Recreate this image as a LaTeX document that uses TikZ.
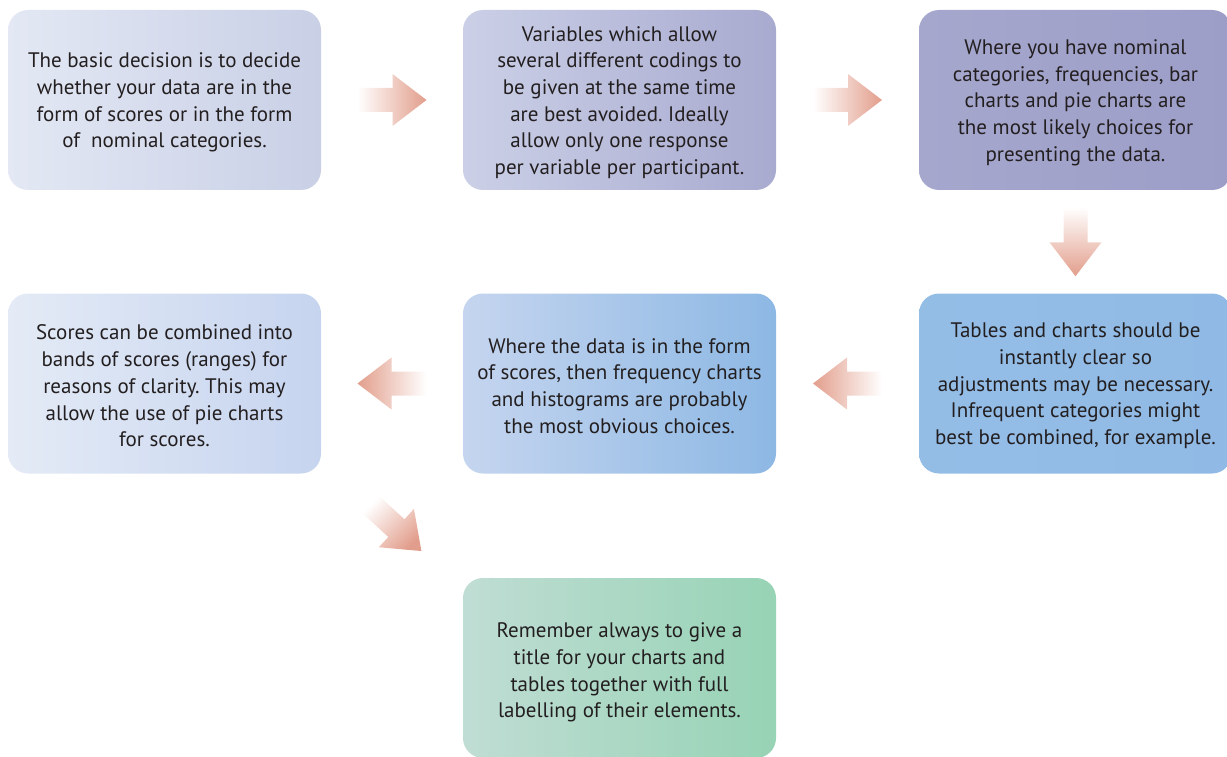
\documentclass[tikz,border=0pt]{standalone}
\usepackage{fontspec}
\setmainfont{PT Sans}
\usetikzlibrary{calc}
\definecolor{txt}{HTML}{231F20}
\definecolor{sal}{HTML}{E29E8C}
\definecolor{bAl}{HTML}{E3E8F4}\definecolor{bAr}{HTML}{C9D0E6}
\definecolor{bBl}{HTML}{CBD0E7}\definecolor{bBr}{HTML}{A8AACF}
\definecolor{bCl}{HTML}{A5A7CD}\definecolor{bCr}{HTML}{9C9EC8}
\definecolor{bDl}{HTML}{E4EBF6}\definecolor{bDr}{HTML}{C6D4EF}
\definecolor{bEl}{HTML}{C5D5EF}\definecolor{bEr}{HTML}{8DB8E4}
\definecolor{bFl}{HTML}{94BDE6}\definecolor{bFr}{HTML}{90BAE5}
\definecolor{bGl}{HTML}{C0DDD4}\definecolor{bGr}{HTML}{97D3B5}
\tikzset{
  box/.style={rounded corners=20pt, minimum width=313pt, minimum height=180pt,
    inner sep=0pt},
  boxtext/.style={align=center, inner sep=0pt, text=txt,
    font=\fontsize{21}{26.7}\selectfont\frenchspacing},
}
\newcommand\blockarrow[3]{%
  \begin{scope}[shift={#1}, rotate=#2]
    \path[#3] (-34.5,-12) -- (0.5,-12) -- (0.5,-26) -- (34.5,0) -- (0.5,26)
      -- (0.5,12) -- (-34.5,12) -- cycle;
  \end{scope}}
\begin{document}
\begin{tikzpicture}[x=1pt,y=-1pt]
\clip (0,0) rectangle (1227,757);
\node[box, left color=bAl, right color=bAr] (b1) at (164.5,100) {};
\node[boxtext] (t1) at ($(b1.center)+(0,2.5)$) {The basic decision is to decide\\ whether your data are in the\\ form of scores or in the form\\ of~~nominal categories.};
\node[box, left color=bBl, right color=bBr] (b2) at (619.5,100) {};
\node[boxtext] (t2) at ($(b2.center)+(0,2.5)$) {Variables which allow\\ several different codings to\\ be given at the same time\\ are best avoided. Ideally\\ allow only one response\\ per variable per participant.};
\node[box, left color=bCl, right color=bCr] (b3) at (1075.5,100) {};
\node[boxtext] (t3) at ($(b3.center)+(0,2.5)$) {Where you have nominal\\ categories, frequencies, bar\\ charts and pie charts are\\ the most likely choices for\\ presenting the data.};
\node[box, left color=bDl, right color=bDr] (b4) at (164.5,383.5) {};
\node[boxtext] (t4) at ($(b4.center)+(0,2.5)$) {Scores can be combined into\\ bands of scores (ranges) for\\ reasons of clarity. This may\\ allow the use of pie charts\\ for scores.};
\node[box, left color=bEl, right color=bEr] (b5) at (619.5,383.5) {};
\node[boxtext] (t5) at ($(b5.center)+(0,2.5)$) {Where the data is in the form\\ of scores, then frequency charts\\ and histograms are probably\\ the most obvious choices.};
\node[box, left color=bFl, right color=bFr] (b6) at (1075.5,383.5) {};
\node[boxtext] (t6) at ($(b6.center)+(0,2.5)$) {Tables and charts should be\\ instantly clear so\\ adjustments may be necessary.\\ Infrequent categories might\\ best be combined, for example.};
\node[box, left color=bGl, right color=bGr] (b7) at (619.5,668) {};
\node[boxtext] (t7) at ($(b7.center)+(0,4.5)$) {Remember always to give a\\ title for your charts and\\ tables together with full\\ labelling of their elements.};
\blockarrow{($(b1.east)!0.5!(b2.west)$)}{0}{left color=white, right color=sal}
\blockarrow{($(b2.east)!0.5!(b3.west)$)}{0}{left color=white, right color=sal}
\blockarrow{($(b3.south)!0.5!(b6.north)$)}{-90}{top color=white, bottom color=sal}
\blockarrow{($(b6.west)!0.5!(b5.east)$)}{180}{left color=sal, right color=white}
\blockarrow{($(b5.west)!0.5!(b4.east)$)}{180}{left color=sal, right color=white}
\blockarrow{($(b4.south east)!0.5!(b7.north west)+(4,2)$)}{-42.5}{top color=white, bottom color=sal, shading angle=45}
\end{tikzpicture}
\end{document}
